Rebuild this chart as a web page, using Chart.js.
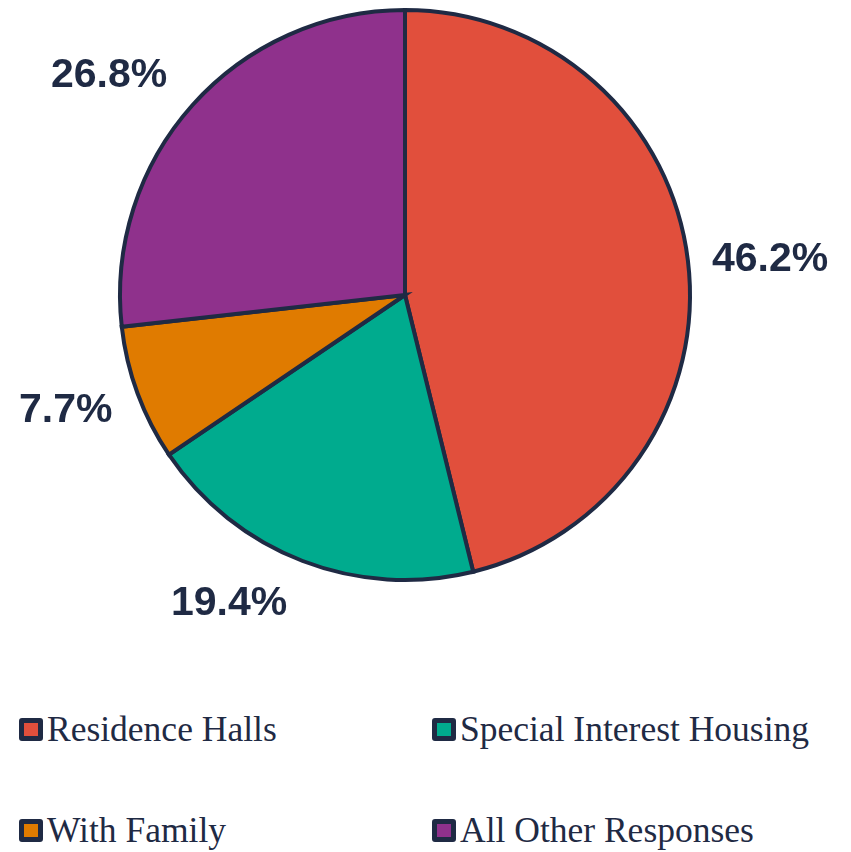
<!DOCTYPE html>
<html>
<head>
<meta charset="utf-8">
<script src="https://cdn.jsdelivr.net/npm/chart.js@4/dist/chart.umd.min.js"></script>
<style>
  html, body { margin: 0; padding: 0; background: #fff; }
  #wrap { position: relative; width: 851px; height: 852px; }
  #chartBox { position: absolute; left: 0; top: 0; width: 851px; height: 660px; }
  .leg { position: absolute; display: flex; align-items: center;
         font-family: "Liberation Serif", "DejaVu Serif", serif; font-size: 35.5px; color: #1f2a44; }
  .leg .box { width: 14px; height: 13px; border: 5px solid #1f2a44; border-radius: 3px; margin-right: 4px; }
</style>
</head>
<body>
<div id="wrap">
  <div id="chartBox"><canvas id="myChart"></canvas></div>
  <div id="legend"></div>
</div>
<script>
// Datos del grafico
const categories = ["Residence Halls", "Special Interest Housing", "With Family", "All Other Responses"];
const values = [46.2, 19.4, 7.7, 26.8];
const sliceColors = ["#e14f3c", "#00ab8e", "#e07b00", "#8f318c"];

const navy = "#1f2a44";

// Desplazamiento de las etiquetas (como en el original)
const labelShift = [[3, 9], [-45, -32], [3, -10], [-24, 24]];

const outsideLabels = {
  id: "outsideLabels",
  afterDatasetsDraw(chart) {
    const ctx = chart.ctx;
    const meta = chart.getDatasetMeta(0);
    ctx.save();
    ctx.font = "bold 41px 'Liberation Sans', Arial, sans-serif";
    ctx.fillStyle = navy;
    ctx.textAlign = "center";
    ctx.textBaseline = "middle";
    meta.data.forEach((arc, i) => {
      const p = arc.getProps(["x", "y", "startAngle", "endAngle", "outerRadius"], true);
      const mid = (p.startAngle + p.endAngle) / 2;
      const r = p.outerRadius * 1.28;
      const x = p.x + Math.cos(mid) * r + labelShift[i][0];
      const y = p.y + Math.sin(mid) * r + labelShift[i][1];
      ctx.fillText(values[i].toFixed(1) + "%", x, y);
    });
    ctx.restore();
  }
};

let ctx = document.getElementById("myChart");
let myPieChart = new Chart(ctx, {
  type: "pie",
  data: {
    labels: categories,
    datasets: [{
      data: values,
      backgroundColor: sliceColors,
      borderColor: navy,
      borderWidth: 4,
      borderJoinStyle: "miter"
    }]
  },
  options: {
    responsive: true,
    maintainAspectRatio: false,
    animation: false,
    layout: { padding: { left: 118, right: 159, top: 8, bottom: 78 } },
    plugins: {
      legend: { display: false },
      tooltip: { enabled: false }
    }
  },
  plugins: [outsideLabels]
});

// Leyenda en HTML (dos columnas)
const legendPos = [[19, 729], [432, 729], [19, 830], [432, 830]];
const legend = document.getElementById("legend");
categories.forEach((name, i) => {
  const item = document.createElement("div");
  item.className = "leg";
  item.style.left = legendPos[i][0] + "px";
  item.style.top = (legendPos[i][1] - 20) + "px";
  item.style.height = "40px";
  const box = document.createElement("span");
  box.className = "box";
  box.style.background = sliceColors[i];
  const txt = document.createElement("span");
  txt.textContent = name;
  item.appendChild(box);
  item.appendChild(txt);
  legend.appendChild(item);
});
</script>
</body>
</html>
